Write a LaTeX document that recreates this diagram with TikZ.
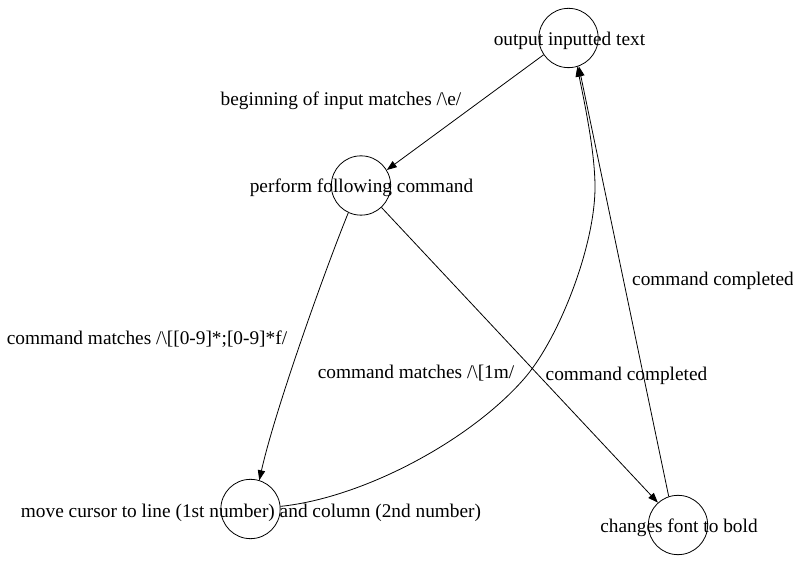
\documentclass[tikz,border=0pt]{standalone}
\usepackage{fontspec}
\setmainfont{Liberation Serif}
\usetikzlibrary{arrows.meta}
\begin{document}
\begin{tikzpicture}[x=0.75pt,y=-0.75pt,
  every node/.style={font=\fontsize{14.5pt}{16.5pt}\selectfont},
  statecirc/.style={circle,draw,line width=0.6pt,minimum size=44.5pt,inner sep=0pt},
  txt/.style={inner sep=0pt,anchor=center},
  edge/.style={line width=0.6pt,-{Triangle[length=7.5pt,width=5.5pt]}}]
\useasboundingbox (0,0) rectangle (793,580);
% states
\node[statecirc] (A) at (568.5,38) {};
\node[statecirc] (B) at (361,185.5) {};
\node[statecirc] (C) at (250.5,509) {};
\node[statecirc] (D) at (678,525) {};
\node[txt] (At) at (569.5,40.5) {output inputted text};
\node[txt] (Bt) at (361.5,187.5) {perform following command};
\node[txt] (Ct) at (251,512.5) {move cursor to line (1st number) and column (2nd number)};
\node[txt] (Dt) at (679,527.5) {changes font to bold};
% edges
\draw[edge] (A.-146) -- (B.31);
\draw[edge] (B.-115) .. controls (325,270) and (275,410) .. (C.73);
\draw[edge] (B.-47) -- (D.132);
\draw[edge] (C.5) .. controls (362,498) and (468,442) .. (523,380)
  .. controls (558,341) and (595,247) .. (595,187)
  .. controls (595,150) and (583,96) .. (A.-73);
\draw[edge] (D.108) -- (A.-70);
% edge labels
\node[txt] (L1) at (341,100.5) {beginning of input matches /\textbackslash e/};
\node[txt] (L2) at (147,339.5) {command matches /\textbackslash[[0-9]*;[0-9]*f/};
\node[txt] (L3) at (416,373.5) {command matches /\textbackslash[1m/};
\node[txt] (L4) at (626.5,375.5) {command completed};
\node[txt] (L5) at (713,280.5) {command completed};
\end{tikzpicture}
\end{document}
